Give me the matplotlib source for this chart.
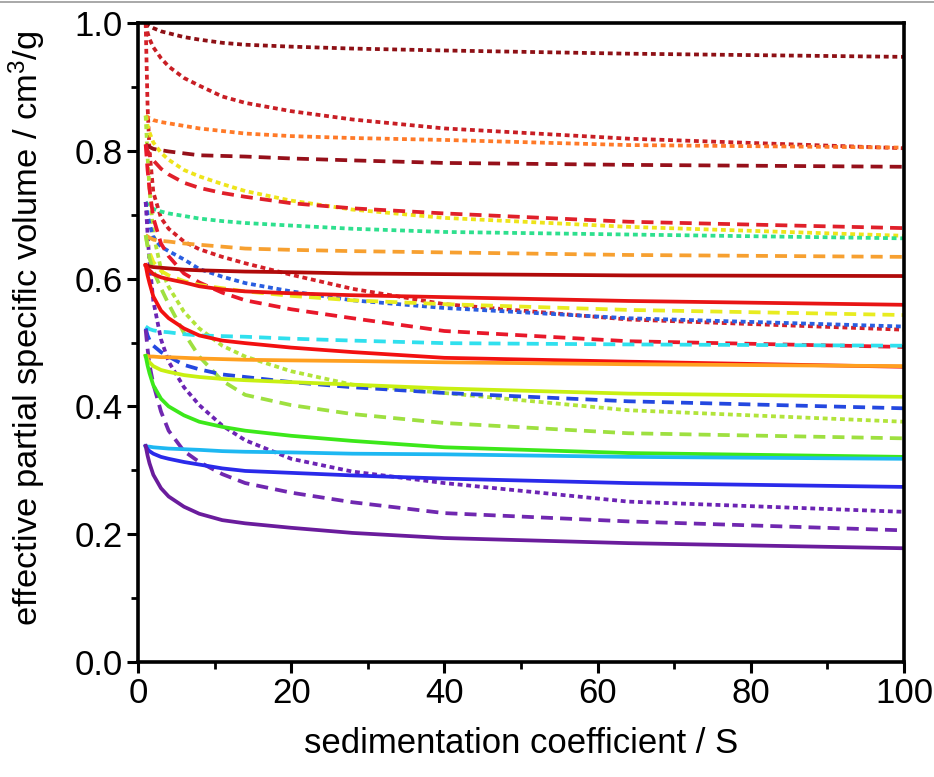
import matplotlib
matplotlib.use("Agg")
import matplotlib.pyplot as plt
from matplotlib.lines import Line2D

plt.rcParams["font.family"] = ["Liberation Sans", "DejaVu Sans"]
plt.rcParams["mathtext.default"] = "regular"

# sedimentation coefficient grid (S)
s = [1, 1.25, 1.5, 2, 3, 4, 6, 8, 11, 14, 20, 28, 40, 64, 100]

# dotted curves, start ~1.0
dot_a1 = [1.0, 0.997, 0.995, 0.992, 0.987, 0.984, 0.978, 0.974, 0.969, 0.966, 0.963, 0.960, 0.957, 0.952, 0.947]
dot_a2 = [1.0, 0.985, 0.975, 0.962, 0.945, 0.932, 0.914, 0.902, 0.885, 0.875, 0.862, 0.849, 0.835, 0.819, 0.804]
dot_a3 = [1.0, 0.87, 0.80, 0.735, 0.695, 0.678, 0.658, 0.646, 0.634, 0.624, 0.606, 0.584, 0.560, 0.536, 0.520]
# dotted curves, start ~0.855
dot_b1 = [0.855, 0.853, 0.851, 0.848, 0.845, 0.843, 0.839, 0.835, 0.831, 0.827, 0.823, 0.820, 0.817, 0.809, 0.805]
dot_b2 = [0.855, 0.840, 0.829, 0.813, 0.797, 0.786, 0.770, 0.760, 0.748, 0.737, 0.722, 0.708, 0.695, 0.681, 0.667]
dot_b3 = [0.855, 0.79, 0.74, 0.67, 0.615, 0.587, 0.548, 0.522, 0.495, 0.478, 0.455, 0.434, 0.421, 0.394, 0.376]
# dotted curves, start ~0.72
dot_c1 = [0.72, 0.716, 0.713, 0.709, 0.705, 0.702, 0.698, 0.694, 0.690, 0.687, 0.683, 0.678, 0.673, 0.669, 0.663]
dot_c2 = [0.72, 0.70, 0.686, 0.665, 0.650, 0.643, 0.630, 0.615, 0.603, 0.593, 0.580, 0.566, 0.554, 0.538, 0.525]
dot_c3 = [0.72, 0.67, 0.625, 0.565, 0.505, 0.470, 0.430, 0.402, 0.370, 0.347, 0.318, 0.298, 0.280, 0.251, 0.235]

# dashed curves, start ~0.81
dash_a1 = [0.81, 0.808, 0.806, 0.803, 0.801, 0.799, 0.796, 0.793, 0.792, 0.791, 0.788, 0.785, 0.781, 0.778, 0.775]
dash_a2 = [0.81, 0.80, 0.795, 0.785, 0.772, 0.763, 0.750, 0.742, 0.734, 0.728, 0.718, 0.710, 0.702, 0.689, 0.679]
dash_a3 = [0.81, 0.77, 0.74, 0.695, 0.655, 0.635, 0.608, 0.594, 0.578, 0.566, 0.552, 0.538, 0.518, 0.502, 0.493]
# dashed curves, start ~0.67
dash_b1 = [0.668, 0.666, 0.664, 0.661, 0.659, 0.658, 0.655, 0.653, 0.650, 0.647, 0.645, 0.643, 0.641, 0.637, 0.634]
dash_b2 = [0.668, 0.652, 0.641, 0.626, 0.612, 0.605, 0.596, 0.590, 0.585, 0.580, 0.573, 0.566, 0.560, 0.551, 0.543]
dash_b3 = [0.668, 0.65, 0.632, 0.612, 0.585, 0.560, 0.515, 0.478, 0.440, 0.418, 0.402, 0.388, 0.374, 0.358, 0.350]
# dashed curves, start ~0.52
dash_c1 = [0.525, 0.523, 0.521, 0.519, 0.517, 0.516, 0.513, 0.511, 0.510, 0.509, 0.506, 0.503, 0.499, 0.497, 0.495]
dash_c2 = [0.522, 0.511, 0.504, 0.495, 0.485, 0.478, 0.465, 0.458, 0.450, 0.446, 0.438, 0.430, 0.421, 0.408, 0.397]
dash_c3 = [0.52, 0.49, 0.465, 0.435, 0.392, 0.362, 0.330, 0.313, 0.294, 0.280, 0.265, 0.250, 0.233, 0.220, 0.206]

# solid curves, start ~0.62
solid_a1 = [0.621, 0.620, 0.619, 0.618, 0.617, 0.616, 0.614, 0.613, 0.612, 0.611, 0.610, 0.608, 0.607, 0.605, 0.604]
solid_a2 = [0.621, 0.616, 0.613, 0.607, 0.602, 0.599, 0.594, 0.588, 0.583, 0.580, 0.577, 0.574, 0.571, 0.565, 0.559]
solid_a3 = [0.621, 0.605, 0.593, 0.572, 0.550, 0.538, 0.522, 0.511, 0.503, 0.499, 0.492, 0.485, 0.476, 0.470, 0.462]
# solid curves, start ~0.48
solid_b1 = [0.479, 0.479, 0.478, 0.478, 0.477, 0.477, 0.476, 0.475, 0.474, 0.473, 0.472, 0.471, 0.469, 0.466, 0.463]
solid_b2 = [0.479, 0.473, 0.469, 0.463, 0.457, 0.454, 0.449, 0.446, 0.443, 0.441, 0.438, 0.434, 0.428, 0.420, 0.415]
solid_b3 = [0.479, 0.464, 0.452, 0.433, 0.412, 0.400, 0.386, 0.376, 0.368, 0.362, 0.354, 0.346, 0.336, 0.327, 0.321]
# solid curves, start ~0.34
solid_c1 = [0.338, 0.337, 0.337, 0.336, 0.335, 0.334, 0.333, 0.332, 0.330, 0.329, 0.328, 0.326, 0.325, 0.321, 0.318]
solid_c2 = [0.338, 0.333, 0.330, 0.326, 0.321, 0.318, 0.313, 0.309, 0.303, 0.299, 0.296, 0.292, 0.287, 0.280, 0.274]
solid_c3 = [0.338, 0.323, 0.311, 0.293, 0.272, 0.259, 0.243, 0.232, 0.222, 0.217, 0.210, 0.202, 0.194, 0.186, 0.178]

x_ticks = [0, 20, 40, 60, 80, 100]
y_ticks = [0.0, 0.2, 0.4, 0.6, 0.8, 1.0]

DOT = (0, (1.3, 1.0))
DASH = (0, (3.2, 1.9))
SOLID = "-"

curves = [
    (dot_a1, "#8E1015", DOT), (dot_a2, "#C81E24", DOT), (dot_a3, "#D42028", DOT),
    (dot_b1, "#FF7A28", DOT), (dot_b2, "#EEE41A", DOT), (dot_b3, "#B2E43A", DOT),
    (dot_c1, "#2EE08E", DOT), (dot_c2, "#2A5EE0", DOT), (dot_c3, "#6C24B4", DOT),
    (dash_a1, "#96101A", DASH), (dash_a2, "#E0202A", DASH), (dash_a3, "#E8182A", DASH),
    (dash_b1, "#F7A030", DASH), (dash_b2, "#E8EC20", DASH), (dash_b3, "#9EE040", DASH),
    (dash_c1, "#30E0EE", DASH), (dash_c2, "#2448E0", DASH), (dash_c3, "#7028B0", DASH),
    (solid_a1, "#B00A0A", SOLID), (solid_a2, "#E81414", SOLID), (solid_a3, "#F21010", SOLID),
    (solid_b1, "#FFA020", SOLID), (solid_b2, "#C8F012", SOLID), (solid_b3, "#3CE81A", SOLID),
    (solid_c1, "#1EB8F2", SOLID), (solid_c2, "#2A2AEA", SOLID), (solid_c3, "#6A1C9C", SOLID),
]

fig = plt.figure(figsize=(9.34, 7.77), dpi=100)
ax = fig.add_axes([138 / 934, 1 - 662 / 777, 766 / 934, 639 / 777])

for vals, col, ls in curves:
    ax.plot(s, vals, color=col, linestyle=ls, lw=2.7)

ax.set_xlim(0, 100)
ax.set_ylim(0, 1.0)
ax.set_xticks(x_ticks)
ax.set_yticks(y_ticks)
ax.set_xticklabels([str(v) for v in x_ticks])
ax.set_yticklabels([f"{v:.1f}" for v in y_ticks])
ax.set_xticks(range(10, 100, 20), minor=True)
ax.set_yticks([0.1, 0.3, 0.5, 0.7, 0.9], minor=True)
ax.tick_params(which="major", direction="out", length=8, width=2.2, labelsize=25, pad=3,
               top=False, right=False)
ax.tick_params(which="minor", direction="out", length=5, width=2.0, top=False, right=False)
for sp in ax.spines.values():
    sp.set_linewidth(2.6)

ax.set_xlabel("sedimentation coefficient / S", fontsize=25)
ax.set_ylabel("effective partial specific volume / cm$^3$/g", fontsize=24.8)
ax.xaxis.set_label_coords(0.5, -0.102)
ax.yaxis.set_label_coords(-0.118, 0.522)

# thin grey border line along the top of the image
fig.add_artist(Line2D([0, 1], [0.997, 0.997], color="#9a9a9a", lw=1.2))

fig.savefig("out.png", dpi=100)
